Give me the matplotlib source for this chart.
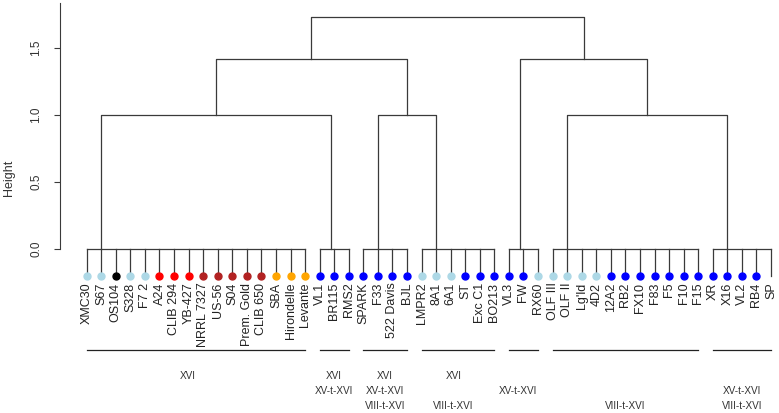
import matplotlib
matplotlib.use('Agg')
import matplotlib.pyplot as plt

plt.rcParams['font.family'] = ['Liberation Sans', 'DejaVu Sans']

# folhas do dendrograma, na ordem do grafico
leaves = ['XMC30', 'S67', 'OS104', 'S328', 'F7 2', 'A24', 'CLIB 294', 'YB-427',
          'NRRL 7327', 'US-56', 'S04', 'Prem. Gold', 'CLIB 650', 'SBA', 'Hirondelle',
          'Levante', 'VL1', 'BR115', 'RMS2', 'SPARK', 'F33', '522 Davis', 'BJL',
          'LMPR2', '8A1', '6A1', 'ST', 'Exc C1', 'BO213', 'VL3', 'FW', 'RX60',
          'OLF III', 'OLF II', "Lg'ld", '4D2', '12A2', 'RB2', 'FX10', 'F83', 'F5',
          'F10', 'F15', 'XR', 'X16', 'VL2', 'RB4', 'SP']
leaf_colors = ['lightblue', 'lightblue', 'black', 'lightblue', 'lightblue',
               'red', 'red', 'red',
               'firebrick', 'firebrick', 'firebrick', 'firebrick', 'firebrick',
               'orange', 'orange', 'orange',
               'blue', 'blue', 'blue', 'blue', 'blue', 'blue', 'blue',
               'lightblue', 'lightblue', 'lightblue', 'blue', 'blue', 'blue',
               'blue', 'blue', 'lightblue',
               'lightblue', 'lightblue', 'lightblue', 'lightblue',
               'blue', 'blue', 'blue', 'blue', 'blue', 'blue', 'blue',
               'blue', 'blue', 'blue', 'blue', None]

# grupos unidos na altura 0
cluster_sizes = [16, 3, 4, 6, 3, 11, 5]
cluster_anchor = [1, 0.75, 1, 1, 0.75, 1, 1]   # posicao do ramo dentro do grupo
# (filho esq, filho dir, altura) -> novos nos 7, 8, ...
merges = [(0, 1, 1.0), (2, 3, 1.0), (5, 6, 1.0),
          (7, 8, 1.414), (4, 9, 1.414), (10, 11, 1.732)]

# rotulos dos grupos (3 linhas)
group_tags = [['XVI', '', ''],
              ['XVI', 'XV-t-XVI', ''],
              ['XVI', 'XV-t-XVI', 'VIII-t-XVI'],
              ['XVI', '', 'VIII-t-XVI'],
              ['', 'XV-t-XVI', ''],
              ['', '', 'VIII-t-XVI'],
              ['', 'XV-t-XVI', 'VIII-t-XVI']]
tag_shift = [-0.55, 0, 0, -0.3, -0.4, 0, 0]

hang = -0.2
bar_y = -0.753
row_y = [-0.944, -1.058, -1.168]
lc = '#3a3a3a'

fig = plt.figure(figsize=(7.79, 4.13), dpi=100)
ax = fig.add_axes([0, 0, 1, 1])
ax.set_xlim(-5.955, 47.55)
ax.set_ylim(-1.222, 1.855)

node_x = {}
node_h = {}
start = 0
for k, n in enumerate(cluster_sizes):
    first, last = start, start + n - 1
    ax.plot([first, last], [0, 0], color=lc, lw=0.9)
    for i in range(first, last + 1):
        ax.plot([i, i], [0, hang], color=lc, lw=0.9, zorder=1)
        if leaf_colors[i] is not None:
            ax.plot(i, hang, 'o', color=leaf_colors[i], ms=5, zorder=2)
        ax.text(i, hang - 0.05, leaves[i], rotation=90, ha='center', va='top',
                fontsize=9, color='#222222')
    node_x[k] = first + cluster_anchor[k]
    node_h[k] = 0
    # barra e rotulos do grupo
    ax.plot([first, last], [bar_y, bar_y], color='#222222', lw=0.9)
    cx = (first + last) / 2 + tag_shift[k]
    for r, t in enumerate(group_tags[k]):
        if t:
            ax.text(cx, row_y[r], t, ha='center', va='center', fontsize=7.2,
                    color='#333333', family=['Liberation Sans Narrow', 'Liberation Sans'])
    start += n

for j, (a, b, h) in enumerate(merges):
    nid = len(cluster_sizes) + j
    xa, xb = node_x[a], node_x[b]
    ax.plot([xa, xa, xb, xb], [node_h[a], h, h, node_h[b]], color=lc, lw=0.9)
    node_x[nid] = (xa + xb) / 2
    node_h[nid] = h

for s in ['top', 'right', 'bottom']:
    ax.spines[s].set_visible(False)
ax.spines['left'].set_position(('data', -1.854))
ax.spines['left'].set_bounds(0, 1.83)
ax.spines['left'].set_color(lc)
ax.set_xticks([])
ax.set_yticks([0, 0.5, 1.0, 1.5])
ax.set_yticklabels(['0.0', '0.5', '1.0', '1.5'], rotation=90, va='center')
ax.tick_params(axis='y', length=4.6, width=0.8, pad=8, labelsize=8.5,
               colors=lc, labelcolor='#333333')
ax.patch.set_visible(False)

fig.text(9.3 / 779, 1 - 178 / 413, 'Height', rotation=90, ha='center',
         va='center', fontsize=9, color='#333333')

fig.savefig('out.png', dpi=100)
